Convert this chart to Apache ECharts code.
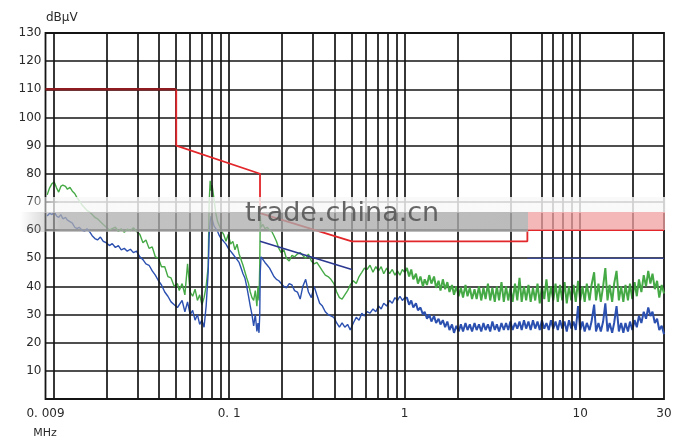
<!DOCTYPE html>
<html><head><meta charset="utf-8">
<script src="https://cdn.jsdelivr.net/npm/echarts/dist/echarts.min.js"></script>
<style>html,body{margin:0;padding:0;background:#fff}#c{width:682px;height:445px}</style>
</head><body><div id="c"></div>
<script>
// ---- frequency (MHz) sweep, segment A: 0.009–0.05
const freqA = [0.0092,0.0095,0.0098,0.0101,0.0104,0.0107,0.011,0.0113,0.0117,0.012,0.0124,0.0128,0.0132,0.0136,0.014,0.0145,0.015,0.0155,0.016,0.0166,0.0172,0.0178,0.0185,0.0192,0.02,0.0208,0.0216,0.0225,0.0234,0.0243,0.0253,0.0263,0.0274,0.0285,0.0297,0.031,0.0323,0.0336,0.035,0.0365,0.038,0.0396,0.0412,0.043,0.0448,0.0467,0.0487,0.0508];
const greenA = [72.5,75,76.5,77,75,73.5,75.5,76,75.5,74.5,75.2,73.8,73,71.5,70.5,69,68,67,66.5,65.5,64.5,64,63,62,61,60,60.5,61,59.5,60.5,59.2,60.3,59.8,60.8,59.5,58.5,55.5,56.5,53.5,54,50.5,50,47,47,43.5,43,40,41];
const blueA = [65,66,65.5,66.5,65,64.5,65.5,64,64.5,63.5,63,62.5,61,60.5,61,60,59.5,60.5,59.5,58,57,56.5,57.5,56,55.5,54.5,55.2,53.8,54.5,53,53.5,52.5,53.2,52,52.5,50.5,49.5,48,47.5,45.5,44,42,40.5,38,36.5,34.5,33.5,32.5];
// segment B: 0.05–0.15
const freqB = [0.052,0.054,0.056,0.058,0.06,0.062,0.064,0.066,0.068,0.07,0.072,0.074,0.076,0.077,0.078,0.079,0.08,0.082,0.084,0.086,0.088,0.09,0.093,0.096,0.099,0.102,0.105,0.108,0.111,0.114,0.117,0.12,0.123,0.126,0.129,0.132,0.135,0.138,0.141,0.144,0.146,0.148,0.1495,0.1505,0.152];
const greenB = [38.5,41,37,48,38,36.5,39,35,37,33.5,36,40,47,70,77.5,74,76,71,66,63,61.5,60,58.5,56,58.5,55,56,53,55,51.5,52,47.5,47,43,41,38,36,35,38.5,33,40,35,48,65,61];
const blueB = [33,35,31,34.5,30,31.5,28,30,26.5,28,25.5,33,45,58,63,65,64,61.5,60.5,59.5,58,57,56,55,53.5,52.5,51.5,50.5,49.5,48.5,46.5,44.5,43,40,36.5,33,30,26,30,24,27,23.5,30,45,50.5];
// segment M: 0.15–1
const freqM = [0.156,0.16,0.165,0.17,0.175,0.18,0.186,0.192,0.198,0.205,0.212,0.22,0.228,0.236,0.245,0.254,0.263,0.273,0.283,0.294,0.305,0.316,0.328,0.34,0.353,0.366,0.38,0.395,0.41,0.425,0.44,0.456,0.473,0.49,0.51,0.53,0.55,0.57,0.59,0.61,0.635,0.66,0.685,0.71,0.735,0.76,0.79,0.82,0.85,0.88,0.91,0.94,0.97,1.0];
const greenM = [62,60.5,61,60,59.5,58,56,53.5,52,53,50,49,51,50.5,51.5,52,51,50,51.5,49,48,48.5,47,45.5,44,43.5,42.5,41,38,36,35.5,37,38.5,40.5,42,41,43.5,45,46.5,46,47.5,45,47,45.5,47,44.5,46.5,44.5,46,44,45.5,44,46,45];
const blueM = [49.5,48.5,47.5,46.5,45,43.5,42.5,42,41,40,39.5,41,40.5,38.5,38,35.5,40,42.5,38,36,40,37,34,33,31,30,29.5,29,27,25.5,27,25.5,26.5,24.5,27,29,28,30.5,29.5,31,30.5,32,31,33,32,34,33,35,34,36,35,36.5,35,36];
// segment C: 1–30 (dense noisy part)
const freqC = [1.03,1.06,1.09,1.12,1.16,1.19,1.23,1.27,1.3,1.34,1.38,1.42,1.47,1.51,1.56,1.6,1.65,1.7,1.75,1.8,1.86,1.91,1.97,2.03,2.09,2.15,2.22,2.28,2.35,2.42,2.5,2.57,2.65,2.73,2.81,2.89,2.98,3.07,3.16,3.26,3.35,3.45,3.56,3.67,3.78,3.89,4.0,4.12,4.25,4.38,4.51,4.64,4.78,4.92,5.07,5.22,5.38,5.54,5.71,5.88,6.05,6.24,6.42,6.62,6.81,7.02,7.23,7.45,7.67,7.9,8.14,8.38,8.63,8.89,9.16,9.43,9.72,10.0,10.3,10.6,10.9,11.3,11.6,12.0,12.3,12.7,13.1,13.5,13.9,14.3,14.7,15.2,15.6,16.1,16.6,17.1,17.6,18.1,18.7,19.2,19.8,20.4,21.0,21.6,22.3,23.0,23.7,24.4,25.1,25.8,26.6,27.4,28.2,29.1,30.0];
const greenC = [46.5,43.5,46,42.5,44.5,41,43.5,40,42.5,40.5,44,41,43.5,39.5,42,38.5,42.5,39,41.5,38,40.5,37,40,36.5,39.5,36,40.5,36.5,39.5,35.5,39,35.5,40,35,39.5,35.5,41,35,39.5,34.5,40,35,41.5,34.5,40,35,39.5,34.5,41,35,43,34.5,40,35,40.5,34.5,39.5,35,41,34,40,35.5,42.5,34.5,40,35,41,34.5,40.5,35,41.5,34,40,35,40.5,34.5,42,35,40,34.5,41,35,40.5,45,35,41,34.5,40,46.5,35,40.5,34.5,41,45.5,35,40,34.5,40.5,35,41,35.5,41.5,36.5,42.5,38,44,40,45.5,41,44.5,39,42,36,40.5,37.5];
const blueC = [36,33.5,35,32.5,34,31.5,32.5,30,31,28.5,30,27.5,29.5,27,28.5,26.5,28,25.5,27.5,24.5,26.5,23.5,26,24,26.5,24,27,24.5,26.5,24,27,24.5,26.5,24,27,24.5,26.5,24,27.5,24.5,26.5,24,27,24.5,27,24.5,27.5,24.5,27,25,27.5,24.5,28,25,27.5,24.5,28,25,27.5,24.5,28,25,27,24.5,28,25,27.5,24.5,28,25,27.5,24,28,25,27.5,24.5,33,24.5,27.5,24,27,24.5,27.5,33.5,24,27,24,27.5,34,24,27,23.5,27,33,24,27,23.5,27,24,27.5,24.5,28,25.5,29.5,27,31,28.5,32.5,29.5,31,27,28.5,24.5,26,23];

// ---- limit lines (MHz, dBµV)
const qpLimitTop = [[0.009,110],[0.05,110]];
const qpLimit = [[0.05,110],[0.05,90],[0.15,80],[0.15,66],[0.5,56],[5,56],[5,60],[30,60]];
const avgLimitA = [[0.15,56],[0.5,46]];
const avgLimitB = [[5,50],[30,50]];

// ---- grid / tick definitions
const vGridLines = [0.01,0.02,0.03,0.04,0.05,0.06,0.07,0.08,0.09,0.1,0.2,0.3,0.4,0.5,0.6,0.7,0.8,0.9,1,2,4,6,7,8,9,10,20];
const xTicks = [0.009,0.1,1,10,30];
const xTickLabels = ['0. 009','0. 1','1','10','30'];

const pairs = (xs, ys) => xs.map((x, i) => [x, ys[i]]);
const freqLow = freqA.concat(freqB, freqM);
const greenLow = greenA.concat(greenB, greenM);
const blueLow = blueA.concat(blueB, blueM);
const lastLow = freqLow.length - 1;
const greenHigh = [[freqLow[lastLow], greenLow[lastLow]]].concat(pairs(freqC, greenC));
const blueHigh = [[freqLow[lastLow], blueLow[lastLow]]].concat(pairs(freqC, blueC));

const GREEN = '#45aa45', BLUE = '#2b50b0', RED = '#e2262a', DARKRED = '#8e1b1f', NAVY = '#2c3990';
const FONT = '"DejaVu Sans", sans-serif';

const chart = echarts.init(document.getElementById('c'));
chart.setOption({
  animation: false,
  backgroundColor: '#fff',
  grid: {left: 45.5, right: 18, top: 33, bottom: 46, show: true, borderColor: '#141414', borderWidth: 1.8, backgroundColor: 'transparent'},
  xAxis: {type: 'log', logBase: 10, min: 0.009, max: 30,
    axisLine: {show: false}, axisTick: {show: false}, axisLabel: {show: false}, splitLine: {show: false}},
  yAxis: {type: 'value', min: 0, max: 130, interval: 10,
    axisLine: {show: false}, axisTick: {show: false},
    axisLabel: {color: '#2a2a2a', fontSize: 12, fontFamily: FONT, margin: 4,
      formatter: v => v === 0 ? '' : String(v)},
    splitLine: {lineStyle: {color: '#141414', width: 1.7}}},
  series: [
    {type: 'line', data: [], z: 1, silent: true,
      markLine: {silent: true, symbol: ['none','none'], label: {show: false},
        lineStyle: {color: '#141414', width: 1.7, type: 'solid'},
        emphasis: {disabled: true},
        data: vGridLines.map(v => ({xAxis: v}))}},
    {type: 'line', data: pairs(freqLow, greenLow), showSymbol: false, z: 3, silent: true,
      lineStyle: {color: GREEN, width: 1.4}},
    {type: 'line', data: greenHigh, showSymbol: false, z: 3, silent: true,
      lineStyle: {color: GREEN, width: 2.0}},
    {type: 'line', data: pairs(freqLow, blueLow), showSymbol: false, z: 4, silent: true,
      lineStyle: {color: BLUE, width: 1.4}},
    {type: 'line', data: blueHigh, showSymbol: false, z: 4, silent: true,
      lineStyle: {color: BLUE, width: 2.0}},
    {type: 'line', data: qpLimit, showSymbol: false, z: 5, silent: true,
      lineStyle: {color: RED, width: 1.8}},
    {type: 'line', data: qpLimitTop, showSymbol: false, z: 6, silent: true,
      lineStyle: {color: DARKRED, width: 2.6}},
    {type: 'line', data: avgLimitA, showSymbol: false, z: 5, silent: true,
      lineStyle: {color: NAVY, width: 1.6}},
    {type: 'line', data: avgLimitB, showSymbol: false, z: 5, silent: true,
      lineStyle: {color: '#3a4aa8', width: 1.2}}
  ]
});

const px = f => chart.convertToPixel({xAxisIndex: 0}, f);
const graphics = [
  // watermark band
  {type: 'rect', z: 100, silent: true, shape: {x: 20, y: 197, width: 646, height: 16},
    style: {fill: new echarts.graphic.LinearGradient(0,0,1,0,[{offset:0,color:'rgba(250,250,250,0)'},{offset:0.06,color:'rgba(248,248,248,0.82)'},{offset:1,color:'rgba(248,248,248,0.82)'}])}},
  {type: 'rect', z: 100, silent: true, shape: {x: 20, y: 212, width: 508, height: 20},
    style: {fill: new echarts.graphic.LinearGradient(0,0,1,0,[{offset:0,color:'rgba(175,175,175,0)'},{offset:0.08,color:'rgba(175,175,175,0.75)'},{offset:1,color:'rgba(170,170,170,0.8)'}])}},
  {type: 'rect', z: 100, silent: true, shape: {x: 528, y: 212, width: 137, height: 18},
    style: {fill: 'rgba(242,160,160,0.75)'}},
  {type: 'text', z: 101, silent: true, x: 245, y: 214,
    style: {text: 'trade.china.cn', fill: 'rgba(85,85,85,0.9)', font: '27px "DejaVu Sans", sans-serif', verticalAlign: 'middle', align: 'left'}},
  // axis titles
  {type: 'text', silent: true, x: 46, y: 18,
    style: {text: 'dBμV', fill: '#2a2a2a', font: '12px ' + FONT, verticalAlign: 'middle', align: 'left'}},
  {type: 'text', silent: true, x: 45, y: 433,
    style: {text: 'MHz', fill: '#2a2a2a', font: '11px ' + FONT, verticalAlign: 'middle', align: 'center'}}
].concat(xTicks.map((f, i) => ({type: 'text', silent: true, x: px(f), y: 414,
    style: {text: xTickLabels[i], fill: '#2a2a2a', font: '12px ' + FONT, verticalAlign: 'middle', align: 'center'}})));
chart.setOption({graphic: graphics});
</script>
</body></html>
